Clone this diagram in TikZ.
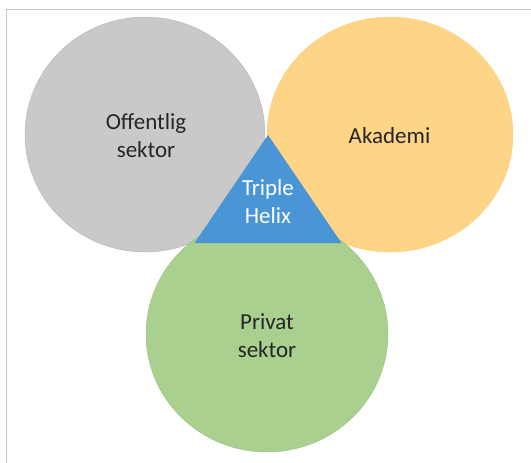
\documentclass[tikz,border=0pt]{standalone}
\usepackage{fontspec}
\setmainfont{Carlito}
\usepackage{tikz}

\definecolor{offgray}{HTML}{C9C9C9}
\definecolor{akagold}{HTML}{FED486}
\definecolor{privgreen}{HTML}{A9D08F}
\definecolor{helixblue}{HTML}{4A95D6}

\begin{document}
\begin{tikzpicture}[x=1pt,y=-1pt,
  lbl/.style={align=center,text=black!85,font=\fontsize{23}{28}\selectfont}]
\useasboundingbox (0,0) rectangle (531,463);
% thin frame, top and left only
\draw[black!22] (6.5,463) -- (6.5,9.5) -- (531,9.5);

% the three sectors
   \filldraw[fill=offgray,draw=offgray!90!black] (145,134.5) ellipse [x radius=120pt, y radius=117.5pt];
   \filldraw[fill=akagold,draw=akagold!92!orange] (390,134.5) ellipse [x radius=123pt, y radius=117.5pt];
   \filldraw[fill=privgreen,draw=privgreen!92!black] (267,334) ellipse [x radius=121pt, y radius=118pt];
% middle part
   \fill[helixblue] (268,135) -- (341.5,243) -- (194.5,243) -- cycle;

\node[lbl] (offentlig) at (146,136) {Offentlig\\sektor};
\node[lbl] (akademi) at (389.5,136) {Akademi};
\node[lbl] (privat) at (267,336) {Privat\\sektor};
\node[lbl,text=white] (helix) at (268,202) {Triple\\Helix};
\end{tikzpicture}
\end{document}
